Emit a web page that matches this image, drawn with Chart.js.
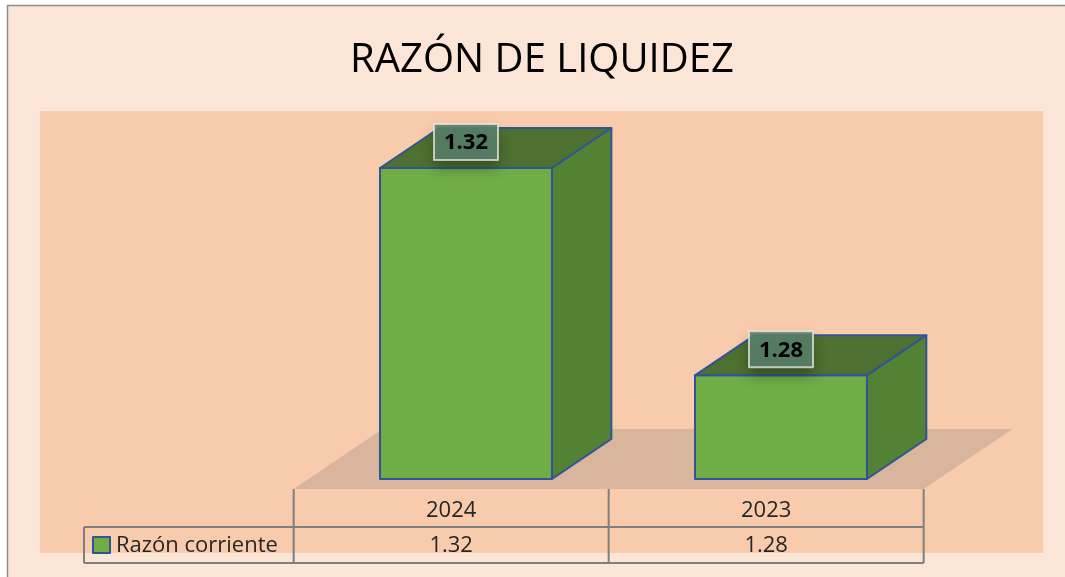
<!DOCTYPE html>
<html>
<head>
<meta charset="utf-8">
<script src="https://cdn.jsdelivr.net/npm/chart.js@4.4.1/dist/chart.umd.min.js"></script>
<style>
  html, body { margin: 0; padding: 0; background: #fff; }
  canvas { display: block; }
</style>
</head>
<body>
<canvas id="chart" width="1065" height="577"></canvas>
<script>
const titulo = 'RAZÓN DE LIQUIDEZ';
const anios = ['2024', '2023'];
const serieNombre = 'Razón corriente';
const razonCorriente = [1.32, 1.28];

const FONT = '"Open Sans", "Noto Sans", sans-serif';
// profundidad del piso 3D (la barra ocupa los 2/3 centrales)
const DEPTH_X = 89;
const DEPTH_Y = -60;

function quad(ctx, pts, fill, stroke) {
  ctx.beginPath();
  ctx.moveTo(pts[0][0], pts[0][1]);
  for (let i = 1; i < pts.length; i += 1) ctx.lineTo(pts[i][0], pts[i][1]);
  ctx.closePath();
  ctx.fillStyle = fill;
  ctx.fill();
  if (stroke) {
    ctx.strokeStyle = stroke;
    ctx.lineWidth = 2;
    ctx.lineJoin = 'round';
    ctx.stroke();
  }
}

const excel3d = {
  id: 'excel3d',
  beforeDraw(chart) {
    const { ctx } = chart;
    ctx.save();
    ctx.fillStyle = '#ffffff';
    ctx.fillRect(0, 0, chart.width, chart.height);
    ctx.fillStyle = '#FBE5D6';
    ctx.fillRect(7, 5, chart.width - 7, chart.height - 5);
    ctx.strokeStyle = '#8c8c8c';
    ctx.lineWidth = 1.5;
    ctx.beginPath();
    ctx.moveTo(7.5, chart.height);
    ctx.lineTo(7.5, 5.5);
    ctx.lineTo(chart.width, 5.5);
    ctx.stroke();
    // area de trazado
    ctx.fillStyle = '#F8CBAD';
    ctx.fillRect(40, 111, 1003, 442);
    // titulo
    ctx.fillStyle = '#000000';
    ctx.font = '40px ' + FONT;
    ctx.textAlign = 'center';
    ctx.textBaseline = 'alphabetic';
    ctx.fillText(titulo, 542, 72);
    ctx.restore();
  },
  beforeDatasetsDraw(chart) {
    const { ctx } = chart;
    const x = chart.scales.x;
    const y = chart.scales.y;
    const half = (x.getPixelForValue(1) - x.getPixelForValue(0)) / 2;
    const base = y.getPixelForValue(y.min);
    const fy = base - DEPTH_Y / 6;
    const fx0 = x.getPixelForValue(0) - half - DEPTH_X / 6;
    const fx1 = x.getPixelForValue(anios.length - 1) + half - DEPTH_X / 6;
    ctx.save();
    quad(ctx, [[fx0, fy], [fx1, fy], [fx1 + DEPTH_X, fy + DEPTH_Y], [fx0 + DEPTH_X, fy + DEPTH_Y]], '#D9B59E');
    ctx.restore();
  },
  afterDatasetsDraw(chart) {
    const { ctx } = chart;
    const x = chart.scales.x;
    const y = chart.scales.y;
    const meta = chart.getDatasetMeta(0);
    const dx = (DEPTH_X * 2) / 3;
    const dy = (DEPTH_Y * 2) / 3;
    const borde = '#2F5597';
    // las barras se recortan al minimo del eje
    const base = y.getPixelForValue(y.min);
    ctx.save();
    meta.data.forEach((bar, i) => {
      const { x: cx, y: top, width } = bar.getProps(['x', 'y', 'width'], true);
      const l = cx - width / 2;
      const r = cx + width / 2;
      quad(ctx, [[l, top], [r, top], [r + dx, top + dy], [l + dx, top + dy]], '#4E7030', borde);
      quad(ctx, [[r, top], [r + dx, top + dy], [r + dx, base + dy], [r, base]], '#548235', borde);
      ctx.strokeStyle = borde;
      ctx.lineWidth = 2;
      ctx.strokeRect(l, top, width, base - top);

      // etiqueta de datos
      const bw = 64;
      const bh = 36;
      const bx = cx - bw / 2;
      const by = top - 26 - bh / 2;
      ctx.save();
      ctx.shadowColor = 'rgba(0,0,0,0.35)';
      ctx.shadowBlur = 14;
      ctx.shadowOffsetY = 8;
      ctx.fillStyle = 'rgba(88,128,104,0.9)';
      ctx.fillRect(bx, by, bw, bh);
      ctx.restore();
      ctx.strokeStyle = 'rgba(235,235,225,0.75)';
      ctx.lineWidth = 2;
      ctx.strokeRect(bx, by, bw, bh);
      ctx.fillStyle = '#000000';
      ctx.font = 'bold 22px ' + FONT;
      ctx.textAlign = 'center';
      ctx.textBaseline = 'middle';
      ctx.fillText(razonCorriente[i].toFixed(2), cx, by + bh / 2 + 1);
    });

    // tabla de datos
    const half = (x.getPixelForValue(1) - x.getPixelForValue(0)) / 2;
    const t0 = base - DEPTH_Y / 6;
    const t1 = t0 + 38;
    const t2 = t0 + 74;
    const leftLegend = 84;
    const cols = [];
    for (let i = 0; i <= anios.length; i += 1) {
      cols.push(x.getPixelForValue(0) - half - DEPTH_X / 6 + i * 2 * half);
    }
    ctx.strokeStyle = '#7F7F7F';
    ctx.lineWidth = 2;
    ctx.beginPath();
    cols.forEach((cx) => {
      ctx.moveTo(cx, t0);
      ctx.lineTo(cx, t2);
    });
    ctx.moveTo(leftLegend, t1);
    ctx.lineTo(cols[cols.length - 1], t1);
    ctx.moveTo(leftLegend, t2);
    ctx.lineTo(cols[cols.length - 1], t2);
    ctx.moveTo(leftLegend, t1);
    ctx.lineTo(leftLegend, t2);
    ctx.stroke();

    ctx.fillStyle = '#262626';
    ctx.font = '22px ' + FONT;
    ctx.textAlign = 'center';
    ctx.textBaseline = 'middle';
    anios.forEach((a, i) => {
      const mid = (cols[i] + cols[i + 1]) / 2;
      ctx.fillText(a, mid, (t0 + t1) / 2 + 3);
      ctx.fillText(razonCorriente[i].toFixed(2), mid, (t1 + t2) / 2 + 1);
    });
    // clave de leyenda
    ctx.fillStyle = '#70AD47';
    ctx.fillRect(93, t1 + 10, 17, 16);
    ctx.strokeStyle = borde;
    ctx.lineWidth = 2;
    ctx.strokeRect(93, t1 + 10, 17, 16);
    ctx.fillStyle = '#262626';
    ctx.textAlign = 'left';
    ctx.fillText(serieNombre, 116, (t1 + t2) / 2 + 1);
    ctx.restore();
  },
};

const ctx = document.getElementById('chart').getContext('2d');
const chartConfig = {
  type: 'bar',
  data: {
    labels: anios,
    datasets: [
      {
        label: serieNombre,
        data: razonCorriente,
        backgroundColor: '#70AD47',
        borderColor: '#2F5597',
        borderWidth: 0,
        barPercentage: 1,
        categoryPercentage: 0.546,
      }],
  },
  options: {
    responsive: false,
    animation: false,
    layout: {
      padding: {
        left: 308.5, right: 126.5, top: 116.2, bottom: 98,
      },
    },
    scales: {
      x: { display: false },
      y: { display: false, min: 1.26, max: 1.33 },
    },
    plugins: {
      legend: { display: false },
      title: { display: false },
      tooltip: { enabled: false },
    },
  },
  plugins: [excel3d],
};
const myChart = new Chart(ctx, chartConfig);
</script>
</body>
</html>
